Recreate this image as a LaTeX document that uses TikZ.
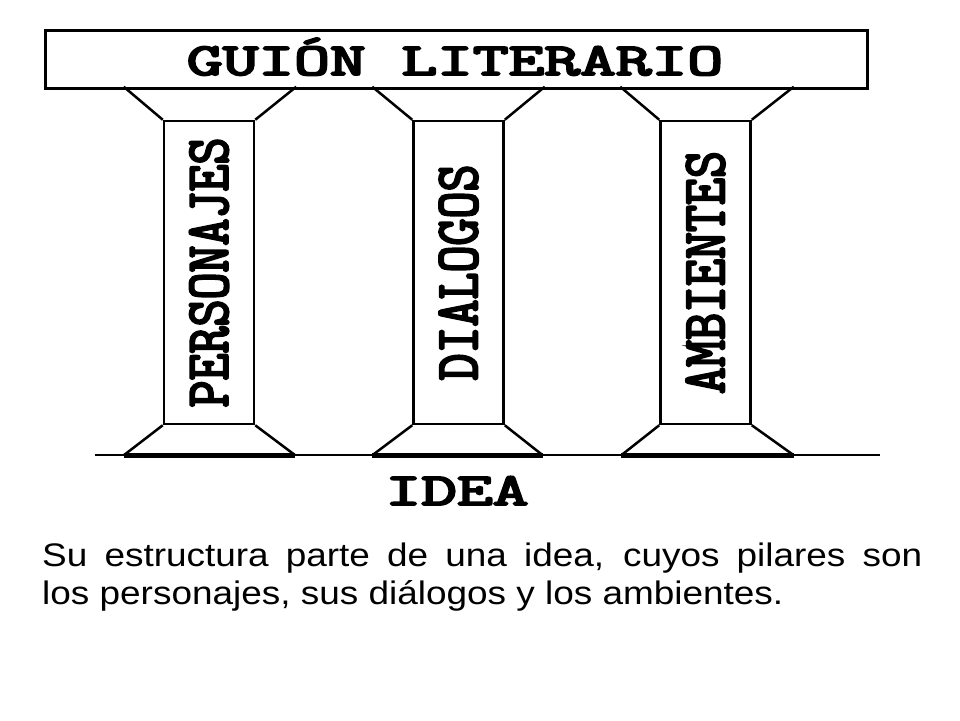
\documentclass[tikz,border=0pt]{standalone}
\usepackage{fontspec}
\setmainfont{Liberation Sans}
\newfontfamily\pilarfont[FakeBold=4]{Latin Modern Mono}
\hyphenpenalty=10000

\begin{document}
\begin{tikzpicture}
  [x=1pt, y=-1pt,
   bar/.style={draw, line width=3pt, minimum width=822pt, minimum height=58pt, inner sep=0pt},
   shaft/.style={draw, line width=2.5pt, minimum width=90pt, minimum height=303pt, inner sep=0pt},
   pillartext/.style={rotate=90, inner sep=0pt, font=\pilarfont\fontsize{52.4}{53}\selectfont},
   bigtext/.style={anchor=base, inner sep=0pt, font=\pilarfont\fontsize{69.4}{70}\selectfont},
   edge/.style={line width=2.5pt},
   foot/.style={line width=4.5pt}]
  \useasboundingbox (0,0) rectangle (960,720);

  % techo
  \node [bar] (bar) at (456,59) {};
  \node [bigtext] (title) at (455,75) {\scalebox{1}[0.66]{GUIÓN LITERARIO}};

  % pilares
  \node [shaft] (p1) at (209,272.5) {};
  \node [shaft] (p2) at (458.5,272.5) {};
  \node [shaft] (p3) at (705.5,272.5) {};
  \node [pillartext] (t1) at (p1) {\scalebox{1}[1.16]{PERSONAJES}};
  \node [pillartext] (t2) at (p2) {\scalebox{1}[1.16]{DIALOGOS}};
  \node [pillartext] (t3) at (p3) {\scalebox{1}[1.16]{AMBIENTES}};

  % capiteles
  \draw [edge] (p1.north west) -- ++(-39,-33);
  \draw [edge] (p1.north east) -- ++(41,-33);
  \draw [edge] (p2.north west) -- ++(-40,-33);
  \draw [edge] (p2.north east) -- ++(40,-33);
  \draw [edge] (p3.north west) -- ++(-39,-33);
  \draw [edge] (p3.north east) -- ++(42,-33);

  % suelo
  \coordinate (g1) at (95,455);
  \coordinate (g2) at (880,455);
  \draw [line width=2.5pt] (g1) -- (g2);

  % bases
  \draw [edge] (p1.south west) -- ++(-39,30) coordinate (b1l);
  \draw [edge] (p1.south east) -- ++(40,30) coordinate (b1r);
  \draw [foot] (b1l) -- (b1r);
  \draw [edge] (p2.south west) -- ++(-40,30) coordinate (b2l);
  \draw [edge] (p2.south east) -- ++(38,30) coordinate (b2r);
  \draw [foot] (b2l) -- (b2r);
  \draw [edge] (p3.south west) -- ++(-38,30) coordinate (b3l);
  \draw [edge] (p3.south east) -- ++(42,30) coordinate (b3r);
  \draw [foot] (b3l) -- (b3r);

  \node [bigtext] (idea) at (457,505) {\scalebox{1}[0.66]{IDEA}};

  % texto
  \node [anchor=north west, inner sep=0pt, xscale=1.133, transform shape,
         text width=776.7pt, align=justify,
         font=\fontsize{32.6}{38}\selectfont] (caption) at (42,542.5)
    {Su estructura parte de una idea, cuyos pilares son\linebreak los personajes, sus diálogos y los ambientes.};
\end{tikzpicture}
\end{document}
